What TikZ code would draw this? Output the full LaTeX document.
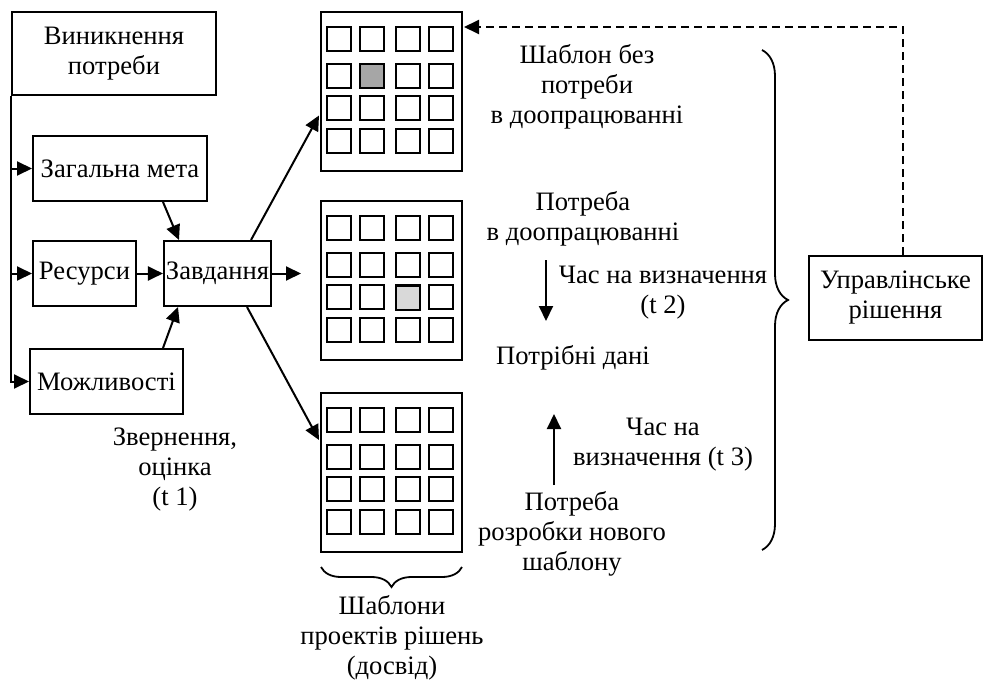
\documentclass[tikz,border=0pt]{standalone}
\usepackage{fontspec}
\setmainfont{Liberation Serif}
\usetikzlibrary{arrows.meta,calc,decorations.pathreplacing}
\tikzset{
  box/.style={draw,line width=1pt,inner sep=1pt,align=center},
  arr/.style={line width=1pt,-{Triangle[length=7.5pt,width=7pt]}},
  lbl/.style={align=center,inner sep=0pt},
  cell/.style={draw,line width=1pt},
  brc/.style={line width=0.9pt,decorate},
}
\begin{document}
\begin{tikzpicture}[x=0.5pt,y=-0.5pt,font=\fontsize{13.3}{15}\selectfont]
\useasboundingbox (0,0) rectangle (986,680);
% boxes
\node[box,minimum width=102pt,minimum height=41.5pt] (need) at (114,53.5) {Виникнення\\потреби};
\node[box,minimum width=87pt,minimum height=32.5pt] (meta) at (120,168.5) {Загальна мета};
\node[box,minimum width=51.5pt,minimum height=32.5pt] (res) at (84.5,273.5) {Ресурси};
\node[box,minimum width=53.5pt,minimum height=32.5pt] (task) at (217.5,273.5) {Завдання};
\node[box,minimum width=76.5pt,minimum height=32.5pt] (mozh) at (106.5,381.5) {Можливості};
\node[box,minimum width=86.5pt,minimum height=42pt] (upr) at (895.5,298) {Управлінське\\рішення};
% grids
\foreach \g/\cy in {grid1/91.5,grid2/280.5,grid3/472}{
  \node[box,minimum width=70.5pt,minimum height=79.5pt,inner sep=0pt] (\g) at (391.5,\cy) {};
  \foreach \cx in {7,40,76,109}{
    \foreach \ry in {16,53,85,118}{
      \draw[cell] ($(\g.north west)+(\cx,\ry)$) rectangle +(24,24);
    }
  }
}
\fill[fill=gray!70] ($(grid1.north west)+(40,53)$) rectangle +(24,24);
\draw[cell] ($(grid1.north west)+(40,53)$) rectangle +(24,24);
\fill[fill=gray!30] ($(grid2.north west)+(76,86)$) rectangle +(24,24);
\draw[cell] ($(grid2.north west)+(76,86)$) rectangle +(24,24);
% left trunk
\draw[arr] (need.south west) |- (mozh.west);
\draw[arr] (need.south west |- meta.west) -- (meta.west);
\draw[arr] (need.south west |- res.west) -- (res.west);
% to task
\draw[arr] ($(meta.south)+(43,0)$) -- ($(task.north)+(-38.5,0)$);
\draw[arr] (res.east) -- (task.west);
\draw[arr] ($(mozh.north)+(56.5,0)$) -- ($(task.south)+(-39.5,0)$);
\coordinate (taskout) at (301,273.5);
\draw[arr] (task.east) -- (taskout);
\draw[arr] ($(task.north)+(33.5,0)$) -- ($(grid1.west)+(-1,24)$);
\draw[arr] ($(task.south)+(29.5,0)$) -- ($(grid3.west)+(-1,-32)$);
% dashed feedback
\draw[arr,dash pattern=on 4pt off 2.5pt] ($(upr.north)+(7,0)$) |- ($(grid1.north east)+(1,16)$);
% labels
\node[lbl] (l1) at (587,87) {Шаблон без\\потреби\\в доопрацюванні};
\node[lbl] (l2) at (583,219) {Потреба\\в доопрацюванні};
\node[lbl] (l3) at (663,293) {Час на визначення\\(t 2)};
\node[lbl] (l4) at (573,358) {Потрібні дані};
\node[lbl] (l5) at (663,445) {Час на\\визначення (t 3)};
\node[lbl] (l6) at (572,534) {Потреба\\розробки нового\\шаблону};
\node[lbl] (l7) at (392,638) {Шаблони\\проектів рішень\\(досвід)};
\node[lbl] (l8) at (175,470) {Звернення,\\оцінка\\(t 1)};
% small arrows
\coordinate (d1) at (546,260);
\coordinate (d2) at (546,321);
\draw[arr] (d1) -- (d2);
\coordinate (u1) at (554,485);
\coordinate (u2) at (554,414);
\draw[arr] (u1) -- (u2);
% braces
\draw[brc,decoration={brace,amplitude=13pt}] (762,50) -- (762,550);
\draw[brc,decoration={brace,amplitude=10pt}] (462,567) -- (321,567);
\end{tikzpicture}
\end{document}
